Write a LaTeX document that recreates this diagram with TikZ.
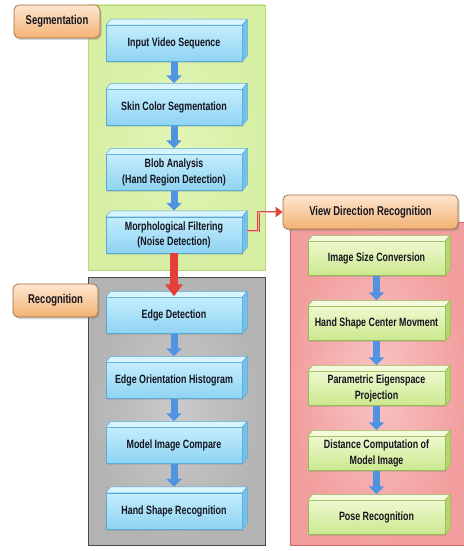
\documentclass[tikz,border=0pt]{standalone}
\usepackage{fontspec}
\setmainfont{Liberation Sans}[FakeStretch=0.74]
\usetikzlibrary{shadows,arrows.meta,calc}
\definecolor{gpanel}{HTML}{D6EFA3}
\definecolor{gpanelin}{HTML}{E2F5B6}
\definecolor{gpanelbd}{HTML}{B5D57E}
\definecolor{grpanel}{HTML}{B3B3B3}
\definecolor{grpanelin}{HTML}{CACACA}
\definecolor{grpanelbd}{HTML}{4A4A4A}
\definecolor{rpanel}{HTML}{F29E9E}
\definecolor{rpanelin}{HTML}{F9C4C4}
\definecolor{rpanelbd}{HTML}{D46565}
\definecolor{labtop}{HTML}{FDE6CE}
\definecolor{labbot}{HTML}{F3B274}
\definecolor{labbd}{HTML}{9C6B3C}
\definecolor{bltop}{HTML}{C4EDFC}
\definecolor{blbot}{HTML}{8ED3F3}
\definecolor{blbd}{HTML}{5AAAD8}
\definecolor{blface}{HTML}{D8F4FE}
\definecolor{blside}{HTML}{74C2EA}
\definecolor{gntop}{HTML}{EEF9CF}
\definecolor{gnbot}{HTML}{CBE88E}
\definecolor{gnbd}{HTML}{95BB50}
\definecolor{gnface}{HTML}{F3FBDC}
\definecolor{gnside}{HTML}{B3D574}
\definecolor{arrowblue}{HTML}{4F93E2}
\definecolor{arrowred}{HTML}{E4403A}
\definecolor{linkred}{HTML}{D9473F}
\definecolor{linkpink}{HTML}{F6B3AE}
\definecolor{txt}{HTML}{15151F}
\newcommand\boxfaces[4]{%
  \filldraw[fill=#2,draw=#4,line width=0.5pt,line join=round] (#1.north west) -- ([shift={(5pt,6pt)}]#1.north west) -- ([shift={(5pt,6pt)}]#1.north east) -- (#1.north east) -- cycle;
  \filldraw[fill=#3,draw=#4,line width=0.5pt,line join=round] (#1.north east) -- ([shift={(5pt,6pt)}]#1.north east) -- ([shift={(5pt,6pt)}]#1.south east) -- (#1.south east) -- cycle;}
\begin{document}
\begin{tikzpicture}[x=1pt,y=-1pt,
  boxtext/.style={align=center,inner sep=1pt,font=\fontsize{12}{15.5}\selectfont\bfseries,text=txt},
  bluebox/.style={boxtext,rectangle,minimum width=136pt,minimum height=36pt,draw=blbd,line width=0.5pt,top color=bltop,bottom color=blbot,drop shadow={opacity=0.25,shadow xshift=1pt,shadow yshift=-1.5pt}},
  greenbox/.style={boxtext,rectangle,minimum width=137pt,minimum height=34pt,draw=gnbd,line width=0.5pt,top color=gntop,bottom color=gnbot,drop shadow={opacity=0.25,shadow xshift=1pt,shadow yshift=-1.5pt}},
  lab/.style={rectangle,rounded corners=5pt,draw=labbd,line width=0.7pt,top color=labtop,bottom color=labbot,font=\fontsize{12.8}{14}\selectfont\bfseries,text=txt,inner sep=2pt,drop shadow={opacity=0.35,shadow xshift=1.5pt,shadow yshift=-2pt}},
  barrow/.style={line width=7pt,arrowblue,-{Triangle[length=8pt,width=15pt]}},
  rarrow/.style={line width=8pt,arrowred,-{Triangle[length=12pt,width=17pt]}}
]
\useasboundingbox (0,0) rectangle (463,551);
\fill[white] (0,0) rectangle (463,551);
% panels
\shade[inner color=gpanelin,outer color=gpanel] (88,5) rectangle (265,270);
\draw[gpanelbd,line width=0.8pt] (88,5) rectangle (265,270);
\shade[inner color=grpanelin,outer color=grpanel] (88,277) rectangle (265,545);
\draw[grpanelbd,line width=0.8pt] (88,277) rectangle (265,545);
\shade[inner color=rpanelin,outer color=rpanel] (290,222) rectangle (466,545);
\draw[rpanelbd,line width=0.8pt] (290,222) rectangle (466,545);
% labels
\node[lab,minimum width=86pt,minimum height=33pt] (seg) at (57,21.5) {Segmentation};
\node[lab,minimum width=85pt,minimum height=33pt] (rec) at (55.5,300.5) {Recognition};
\node[lab,minimum width=175pt,minimum height=34pt] (vdr) at (370.5,212) {View Direction Recognition};
% segmentation boxes
\node[bluebox] (s1) at (174,43.5) {Input Video Sequence};
\node[bluebox] (s2) at (174,107.5) {Skin Color Segmentation};
\node[bluebox] (s3) at (174,172.5) {Blob Analysis\\(Hand Region Detection)};
\node[bluebox] (s4) at (174,235) {Morphological Filtering\\(Noise Detection)};
% recognition boxes
\node[bluebox] (r1) at (174,315.5) {Edge Detection};
\node[bluebox] (r2) at (174,380.5) {Edge Orientation Histogram};
\node[bluebox] (r3) at (174,445.5) {Model Image Compare};
\node[bluebox] (r4) at (174,511) {Hand Shape Recognition};
% view direction boxes
\node[greenbox] (v1) at (376.5,258.5) {Image Size Conversion};
\node[greenbox] (v2) at (376.5,323.5) {Hand Shape Center Movment};
\node[greenbox] (v3) at (376.5,388.5) {Parametric Eigenspace\\Projection};
\node[greenbox] (v4) at (376.5,453.5) {Distance Computation of\\Model Image};
\node[greenbox] (v5) at (376.5,517.5) {Pose Recognition};
\foreach \n in {s1,s2,s3,s4,r1,r2,r3,r4}{\boxfaces{\n}{blface}{blside}{blbd}}
\foreach \n in {v1,v2,v3,v4,v5}{\boxfaces{\n}{gnface}{gnside}{gnbd}}
% arrows
\draw[barrow] (s1.south) -- ([yshift=6pt]s2.north);
\draw[barrow] (s2.south) -- ([yshift=6pt]s3.north);
\draw[barrow] (s3.south) -- ([yshift=6pt]s4.north);
\draw[barrow] (r1.south) -- ([yshift=6pt]r2.north);
\draw[barrow] (r2.south) -- ([yshift=6pt]r3.north);
\draw[barrow] (r3.south) -- ([yshift=6pt]r4.north);
\draw[barrow] (v1.south) -- ([yshift=6pt]v2.north);
\draw[barrow] (v2.south) -- ([yshift=6pt]v3.north);
\draw[barrow] (v3.south) -- ([yshift=6pt]v4.north);
\draw[barrow] (v4.south) -- ([yshift=6pt]v5.north);
\draw[rarrow] (s4.south) -- ([yshift=1pt]r1.north);
% link to view direction
\coordinate (lk) at ([xshift=5pt,yshift=4pt]s4.east);
\draw[linkred,line width=2.8pt,line join=miter,-{Triangle[length=7pt,width=10pt]}] (lk) -- ++(11,0) |- (vdr.west);
\draw[linkpink,line width=1pt,line join=miter,shorten >=7pt] (lk) -- ++(11,0) |- (vdr.west);
\end{tikzpicture}
\end{document}
